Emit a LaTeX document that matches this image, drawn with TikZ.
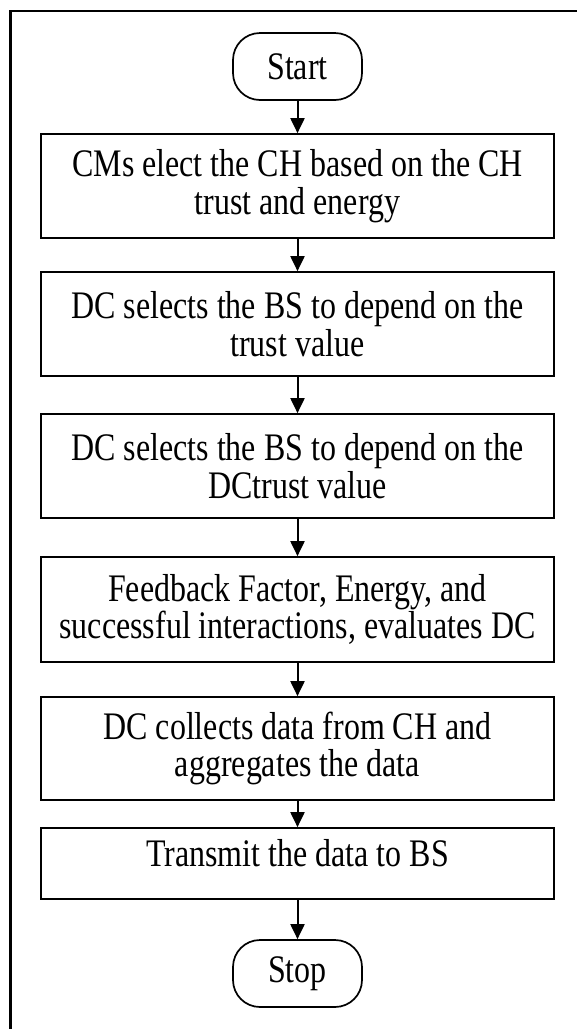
\documentclass[tikz,border=0pt]{standalone}
\usepackage{fontspec}
\setmainfont[FakeStretch=0.82]{Liberation Serif}
\usetikzlibrary{arrows.meta}

\begin{document}
\begin{tikzpicture}[x=1pt,y=-1pt,>={Triangle[length=15pt,width=14pt]},
  font=\fontsize{39}{37.5}\selectfont,
  stepbox/.style={draw,line width=1.7pt,minimum width=513pt,minimum height=104pt,align=center,inner sep=0pt},
  term/.style={draw,line width=1.7pt,rounded corners=27pt,minimum width=129pt,minimum height=67pt,inner sep=0pt},
  flow/.style={->,line width=2pt}]
\useasboundingbox (0,0) rectangle (577,1029);
\draw[line width=2.6pt] (577,11) -- (10.5,11) -- (10.5,1029);
\node[term] (start) at (297.5,66.5) {Start};
\node[stepbox] (elect) at (297.5,186) {CMs elect the CH based on the CH\\trust and energy};
\node[stepbox] (selbs) at (297.5,324) {DC selects the BS to depend on the\\trust value};
\node[stepbox] (seldc) at (297.5,466) {DC selects the BS to depend on the\\DCtrust value};
\node[stepbox,minimum height=105pt] (evald) at (297.5,609.5) {Feedback Factor, Energy, and\\successful interactions, evaluates DC};
\node[stepbox,minimum height=103pt] (collect) at (297.5,748.5) {DC collects data from CH and\\aggregates the data};
\node[stepbox,minimum height=71pt,text depth=21pt] (send) at (297.5,863.5) {Transmit the data to BS};
\node[term] (stop) at (297.5,973.5) {Stop};
\foreach \a/\b in {start/elect,elect/selbs,selbs/seldc,seldc/evald,evald/collect,collect/send,send/stop}
  \draw[flow] (\a) -- (\b);
\end{tikzpicture}
\end{document}
